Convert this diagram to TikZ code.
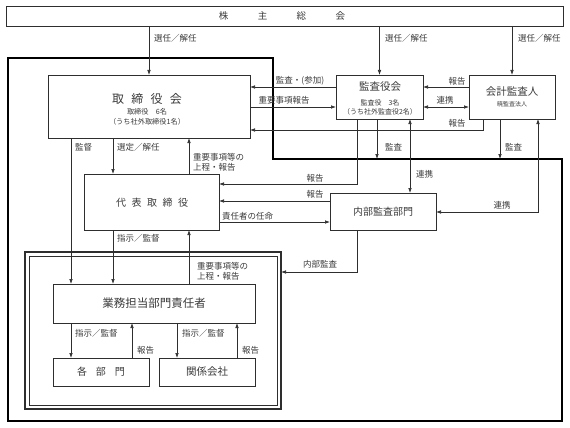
\documentclass[tikz,border=0pt]{standalone}
\usepackage{fontspec}
\setmainfont{Noto Sans CJK JP}
\usetikzlibrary{arrows.meta, calc}

\definecolor{linegray}{HTML}{2E2E2E}
\definecolor{txtgray}{HTML}{3A3A3A}

\tikzset{
  box/.style={draw=linegray, line width=0.8pt, inner sep=0pt, outer sep=0pt},
  txt/.style={text=txtgray, inner sep=0pt, align=center},
  lbl/.style={text=txtgray, inner sep=0pt, font=\fontsize{8.5}{10}\selectfont},
  arr/.style={draw=linegray, line width=0.7pt, -{Latex[length=5pt,width=3.6pt]}},
  darr/.style={draw=linegray, line width=0.7pt, {Latex[length=5pt,width=3.6pt]}-{Latex[length=5pt,width=3.6pt]}},
  plain/.style={draw=linegray, line width=0.7pt},
  frameline/.style={draw=black, line width=2pt}
}

\begin{document}
\begin{tikzpicture}[x=1pt, y=-1pt]
      \useasboundingbox (0,0) rectangle (570,428);

      \draw[frameline] (8,58) -- (273,58) -- (273,159) -- (562,159) -- (562,421) -- (8,421) -- cycle;

      \node[box, minimum width=557, minimum height=20] (soukai) at (284.5,16) {};
      \node[txt, font=\fontsize{9.5}{10}\selectfont] (soukai-t) at (282,16) {株\hspace{3.1em}主\hspace{3.1em}総\hspace{3.1em}会};

      \node[box, minimum width=202, minimum height=63] (torishimari) at (149,106.5) {};
      \node[txt, font=\fontsize{12}{13}\selectfont] (torishimari-t) at (147,99) {取\hspace{0.6em}締\hspace{0.6em}役\hspace{0.6em}会};
      \node[txt, font=\fontsize{7.2}{9.5}\selectfont] (torishimari-s) at (147,117) {取締役　6名\\（うち社外取締役1名）};

      \node[box, minimum width=87, minimum height=44] (kansayaku) at (379.5,97) {};
      \node[txt, font=\fontsize{10.5}{11}\selectfont] (kansayaku-t) at (380,87) {監査役会};
      \node[txt, font=\fontsize{7}{9}\selectfont] (kansayaku-s) at (380,107.5) {監査役　3名\\（うち社外監査役2名）};

      \node[box, minimum width=86, minimum height=44] (kaikei) at (512,97) {};
      \node[txt, font=\fontsize{10.5}{11}\selectfont] (kaikei-t) at (512,92) {会計監査人};
      \node[txt, font=\fontsize{6}{7}\selectfont] (kaikei-s) at (512,104) {暁監査法人};

      \node[box, minimum width=135, minimum height=56] (daihyo) at (151.5,202) {};
      \node[txt, font=\fontsize{10}{11}\selectfont] (daihyo-t) at (152,203) {代\hspace{0.55em}表\hspace{0.55em}取\hspace{0.55em}締\hspace{0.55em}役};

      \node[box, minimum width=106, minimum height=37] (naibu) at (383,211.5) {};
      \node[txt, font=\fontsize{10}{11}\selectfont] (naibu-t) at (383,212) {内部監査部門};

      \node[box, line width=1.3pt, minimum width=256, minimum height=157] (bumon) at (153,330.5) {};
      \draw[linegray, line width=0.7pt] ($(bumon.north west)+(4,4)$) rectangle ($(bumon.south east)+(-4,-4)$);

      \node[box, minimum width=202, minimum height=39] (gyomu) at (154,303.5) {};
      \node[txt, font=\fontsize{11.5}{12}\selectfont] (gyomu-t) at (154,303) {業務担当部門責任者};

      \node[box, minimum width=96, minimum height=28] (kakubu) at (101,372) {};
      \node[txt, font=\fontsize{10}{11}\selectfont] (kakubu-t) at (101,372) {各\hspace{0.9em}部\hspace{0.9em}門};
      \node[box, minimum width=96, minimum height=28] (kankei) at (207,372) {};
      \node[txt, font=\fontsize{10.5}{11}\selectfont] (kankei-t) at (207,372) {関係会社};

      % columns and rows of the connectors
      \coordinate (kantoku) at (71,0);
      \coordinate (sentei) at (113,0);
      \coordinate (joutei) at (189,0);
      \coordinate (kb-hok) at (132,0);
      \coordinate (kk-shi) at (177,0);
      \coordinate (kk-hok) at (237,0);
      \coordinate (ks-hok) at (357,0);
      \coordinate (ks-kan) at (377,0);
      \coordinate (ks-ren) at (410,0);
      \coordinate (ka-hok) at (483,0);
      \coordinate (ka-kan) at (500,0);
      \coordinate (ka-ren) at (538,0);
      \coordinate (r87) at (0,87);
      \coordinate (r107) at (0,107);
      \coordinate (r130) at (0,130);
      \coordinate (r159) at (0,159);
      \coordinate (r184) at (0,184);
      \coordinate (r201) at (0,201);
      \coordinate (r212) at (0,212);
      \coordinate (r222) at (0,222);
      \coordinate (r272) at (0,272);

      \draw[arr] (soukai.south -| torishimari.north) -- (torishimari.north);
      \draw[arr] (soukai.south -| kansayaku.north) -- (kansayaku.north);
      \draw[arr] (soukai.south -| kaikei.north) -- (kaikei.north);
      \node[lbl, anchor=west] (sennin1) at (154,38) {選任／解任};
      \node[lbl, anchor=west] (sennin2) at (385,38) {選任／解任};
      \node[lbl, anchor=west] (sennin3) at (518,38) {選任／解任};

      \draw[arr] (kansayaku.west |- r87) -- (torishimari.east |- r87);
      \node[lbl] (l-kansa) at (300,81) {監査・(参加)};
      \draw[arr] (torishimari.east |- r107) -- (kansayaku.west |- r107);
      \node[lbl] (l-juyo) at (284,100) {重要事項報告};
      \draw[arr] (kaikei.west |- r87) -- (kansayaku.east |- r87);
      \node[lbl] (l-hok1) at (457,81) {報告};
      \draw[darr] (kansayaku.east |- r107) -- (kaikei.west |- r107);
      \node[lbl] (l-ren1) at (445,100) {連携};
      \draw[arr] (kaikei.south -| ka-hok) |- (torishimari.east |- r130);
      \node[lbl] (l-hok2) at (457,123) {報告};

      \draw[arr] (torishimari.south -| kantoku) -- (gyomu.north -| kantoku);
      \node[lbl, anchor=west] (l-kantoku) at (75,147) {監督};
      \draw[arr] (torishimari.south -| sentei) -- (daihyo.north -| sentei);
      \node[lbl, anchor=west] (l-sentei) at (117,147) {選定／解任};
      \draw[arr] (daihyo.north -| joutei) -- (torishimari.south -| joutei);
      \node[lbl, anchor=west, align=left] (l-joutei1) at (193,162) {重要事項等の\\上程・報告};

      \draw[arr] (kansayaku.south -| ks-hok) |- (daihyo.east |- r184);
      \node[lbl] (l-hok3) at (315,178) {報告};
      \draw[arr] (kansayaku.south -| ks-kan) -- (ks-kan |- r159);
      \node[lbl, anchor=west] (l-kansa1) at (385,147) {監査};
      \draw[darr] (kansayaku.south -| ks-ren) -- (naibu.north -| ks-ren);
      \node[lbl, anchor=west] (l-ren2) at (416,174) {連携};
      \draw[arr] (kaikei.south -| ka-kan) -- (ka-kan |- r159);
      \node[lbl, anchor=west] (l-kansa2) at (505,147) {監査};
      \draw[darr] (kaikei.south -| ka-ren) |- (naibu.east |- r212);
      \node[lbl] (l-ren3) at (502,205) {連携};

      \draw[arr] (naibu.west |- r201) -- (daihyo.east |- r201);
      \node[lbl] (l-hok4) at (315,194) {報告};
      \draw[arr] (daihyo.east |- r222) -- (naibu.west |- r222);
      \node[lbl, anchor=west] (l-ninmei) at (222,216) {責任者の任命};
      \draw[arr] (naibu.south -| ks-hok) |- (bumon.east |- r272);
      \node[lbl] (l-naibu) at (320,264) {内部監査};

      \draw[arr] (daihyo.south -| sentei) -- (gyomu.north -| sentei);
      \node[lbl, anchor=west] (l-shiji1) at (117,238) {指示／監督};
      \draw[arr] (gyomu.north -| joutei) -- (daihyo.south -| joutei);
      \node[lbl, anchor=west, align=left] (l-joutei2) at (197,271) {重要事項等の\\上程・報告};

      \draw[arr] (gyomu.south -| kantoku) -- (kakubu.north -| kantoku);
      \node[lbl, anchor=west] (l-shiji2) at (75,333) {指示／監督};
      \draw[arr] (kakubu.north -| kb-hok) -- (gyomu.south -| kb-hok);
      \node[lbl, anchor=west] (l-hok5) at (137,350) {報告};
      \draw[arr] (gyomu.south -| kk-shi) -- (kankei.north -| kk-shi);
      \node[lbl, anchor=west] (l-shiji3) at (182,333) {指示／監督};
      \draw[arr] (kankei.north -| kk-hok) -- (gyomu.south -| kk-hok);
      \node[lbl, anchor=west] (l-hok6) at (242,350) {報告};
    \end{tikzpicture}
\end{document}
